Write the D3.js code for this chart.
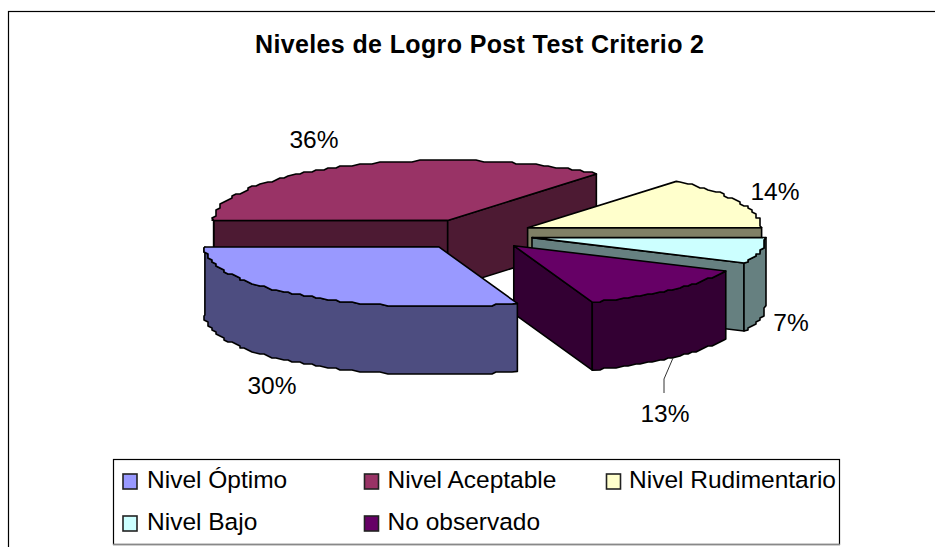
<!DOCTYPE html>
<html>
<head>
<meta charset="utf-8">
<script src="https://cdn.jsdelivr.net/npm/d3@7"></script>
<style>
  html, body { margin: 0; background: #fff; overflow: hidden; }
  svg { display: block; font-family: "Liberation Sans", Arial, sans-serif; }
</style>
</head>
<body>
<div id="chart"></div>
<script>
const titleText = "Niveles de Logro Post Test Criterio 2";
const categories = ["Nivel Óptimo", "Nivel Aceptable", "Nivel Rudimentario", "Nivel Bajo", "No observado"];
const shares = [0.304, 0.36, 0.14, 0.07, 0.126];
const colors = ["#9999ff", "#993366", "#ffffcc", "#ccffff", "#660066"];
const rotationDeg = 160.4;

const width = 935, height = 547;
const cx = 473.4, cy = 234.3, rx = 234, ry = 60, depth = 68, explode = 60;

const svg = d3.select("#chart").append("svg")
    .attr("width", width)
    .attr("height", height);

// outer chart frame runs past the right and bottom of the picture
svg.append("rect")
    .attr("x", 8.5).attr("y", 11.5)
    .attr("width", 960).attr("height", 570)
    .attr("fill", "#fff").attr("stroke", "#000").attr("stroke-width", 1.2);

svg.append("text")
    .attr("x", 255).attr("y", 53)
    .attr("font-size", 25)
    .attr("font-weight", "bold")
    .attr("textLength", 449)
    .text(titleText);

const start = rotationDeg * Math.PI / 180;
const pie = d3.pie().sort(null).startAngle(start).endAngle(start + 2 * Math.PI);
const arcs = pie(shares);

// angle is clockwise from 12 o'clock, same as d3.pie
const px = a => Math.sin(a);
const py = a => -Math.cos(a);
const line = d3.line();

const slices = arcs.map((a, i) => {
    const mid = (a.startAngle + a.endAngle) / 2;
    return {
        i,
        a0: a.startAngle,
        a1: a.endAngle,
        ox: cx + px(mid) * explode,
        oy: cy + py(mid) * explode * ry / rx,
        top: colors[i],
        side: d3.interpolateRgb(colors[i], "#000")(0.5)
    };
});

// rim points snap to a coarse grid, the reference outline is stepped like that
function rimPoints(s, a0, a1, dy) {
    const n = Math.max(2, Math.ceil((a1 - a0) / 0.03));
    return d3.range(n + 1).map(k => {
        const t = a0 + (a1 - a0) * k / n;
        const x = s.ox + px(t) * rx, y = s.oy + py(t) * ry + dy;
        if (k === 0 || k === n) return [x, y];
        return [Math.round(x / 4) * 4, Math.round(y / 2) * 2];
    });
}

const drawOrder = [1, 2, 3, 4, 0];

function face(points, fill) {
    svg.append("path")
        .attr("d", line(points) + "Z")
        .attr("fill", fill)
        .attr("stroke", "#000")
        .attr("stroke-width", 1.6)
        .attr("stroke-linejoin", "round");
}

function wall(s, a, fill) {
    const p = [s.ox + px(a) * rx, s.oy + py(a) * ry];
    face([[s.ox, s.oy], p, [p[0], p[1] + depth], [s.ox, s.oy + depth]], fill);
}

drawOrder.forEach(i => {
    const s = slices[i];
    // cut faces, only those turned toward the viewer
    if (py(s.a0 - Math.PI / 2) > 1e-6) wall(s, s.a0, s.side);
    if (py(s.a1 + Math.PI / 2) > 1e-6) wall(s, s.a1, s.side);

    // outer rim, front half of the ellipse only
    const turns = d3.range(-1, 3).map(k => k * 2 * Math.PI);
    turns.forEach(t => {
        const from = Math.max(s.a0, t + Math.PI / 2);
        const to = Math.min(s.a1, t + 3 * Math.PI / 2);
        if (to > from) {
            const up = rimPoints(s, from, to, 0);
            const down = rimPoints(s, from, to, depth).reverse();
            face(up.concat(down), s.side);
        }
    });

    face([[s.ox, s.oy]].concat(rimPoints(s, s.a0, s.a1, 0)), s.top);
});

// data labels
const labelX = [272, 314, 775, 791, 665];
const labelY = [394, 148, 200, 331, 422];
const fmt = d3.format(".0%");
svg.selectAll("text.pct")
    .data(shares)
    .join("text")
    .attr("class", "pct")
    .attr("x", (d, i) => labelX[i])
    .attr("y", (d, i) => labelY[i])
    .attr("text-anchor", "middle")
    .attr("font-size", 24.5)
    .text(d => fmt(d));

svg.append("path")
    .attr("d", line([[673, 358], [664, 379], [664, 393]]))
    .attr("fill", "none")
    .attr("stroke", "#333")
    .attr("stroke-width", 1);

// legend
const legend = svg.append("g");
legend.append("rect")
    .attr("x", 113.5).attr("y", 459.5)
    .attr("width", 726).attr("height", 85)
    .attr("fill", "#fff").attr("stroke", "#000").attr("stroke-width", 1.2);
legend.append("path")
    .attr("d", line([[113, 544.5], [840, 544.5]]))
    .attr("stroke", "#888").attr("stroke-width", 1.4);

const legendX = [123, 364.5, 606.5, 123, 364.5];
const legendTextX = [147, 387.5, 629, 147, 387.5];
const legendY = [474, 474, 474, 516, 516];
categories.forEach((name, i) => {
    legend.append("rect")
        .attr("x", legendX[i]).attr("y", legendY[i])
        .attr("width", 14).attr("height", 15)
        .attr("fill", colors[i]).attr("stroke", "#222").attr("stroke-width", 1.6);
    legend.append("text")
        .attr("x", legendTextX[i]).attr("y", legendY[i] + 14)
        .attr("font-size", 24.5)
        .text(name);
});
</script>
</body>
</html>
